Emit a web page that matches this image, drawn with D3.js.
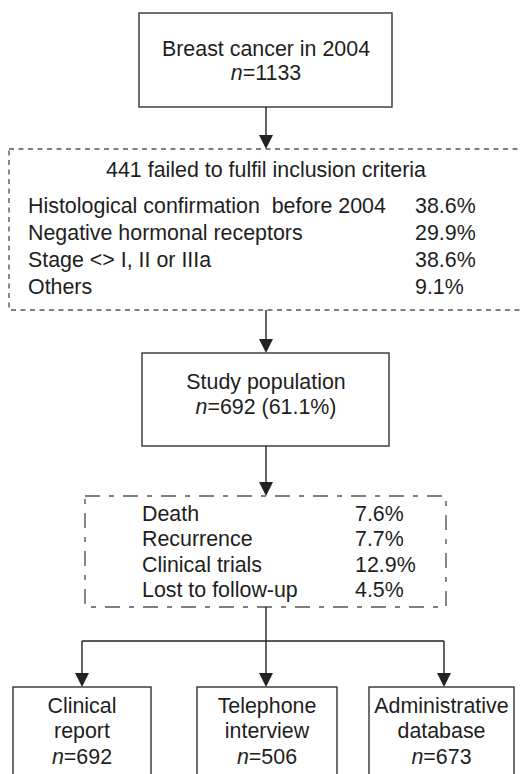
<!DOCTYPE html>
<html>
<head>
<meta charset="utf-8">
<script src="https://cdn.jsdelivr.net/npm/d3@7/dist/d3.min.js"></script>
<style>
  html, body { margin: 0; padding: 0; background: #fff; }
  svg { display: block; }
  text { font-family: "Liberation Sans", Arial, Helvetica, sans-serif; font-size: 21.4px; fill: #1e1e1e; white-space: pre; }
</style>
</head>
<body>
<script>
// ---- data ----
const totalLabel = "Breast cancer in 2004";
const totalN = 1133;
const failedCount = 441;
const failedTitle = "failed to fulfil inclusion criteria";
const exclusionReasons = ["Histological confirmation  before 2004", "Negative hormonal receptors", "Stage <> I, II or IIIa", "Others"];
const exclusionPct = ["38.6%", "29.9%", "38.6%", "9.1%"];
const studyLabel = "Study population";
const studyN = 692;
const studyPct = "61.1%";
const lossReasons = ["Death", "Recurrence", "Clinical trials", "Lost to follow-up"];
const lossPct = ["7.6%", "7.7%", "12.9%", "4.5%"];
const sourceLine1 = ["Clinical", "Telephone", "Administrative"];
const sourceLine2 = ["report", "interview", "database"];
const sourceN = [692, 506, 673];

// ---- layout ----
const W = 520, H = 774;
const svg = d3.select("body").append("svg").attr("width", W).attr("height", H);
const ink = "#222", solid = "#333", dashCol = "#555";
const cx = 266;

function box(x0, y0, x1, y1, dash) {
  svg.append("rect").attr("x", x0).attr("y", y0).attr("width", x1 - x0).attr("height", y1 - y0)
    .attr("fill", "none").attr("stroke", dash ? dashCol : solid).attr("stroke-width", 1.4)
    .attr("stroke-dasharray", dash || null);
}
function arrow(x, y0, y1) {
  svg.append("line").attr("x1", x).attr("x2", x).attr("y1", y0).attr("y2", y1 - 12)
    .attr("stroke", ink).attr("stroke-width", 1.4);
  svg.append("path").attr("d", d3.line()([[x - 7, y1 - 14], [x + 7, y1 - 14], [x, y1]]) + "Z").attr("fill", ink);
}
function nText(g, x, y, rest) {
  const t = g.append("text").attr("x", x).attr("y", y).attr("text-anchor", "middle");
  t.append("tspan").attr("font-style", "italic").text("n");
  t.append("tspan").text("=" + rest);
  return t;
}

// Box 1
box(139, 13, 392, 107);
svg.append("text").attr("x", cx).attr("y", 56).attr("text-anchor", "middle").text(totalLabel);
nText(svg, cx, 80, totalN);
arrow(cx, 107, 149);

// Dashed box 2
box(9, 149, 540, 310, "5,4.5");
svg.append("text").attr("x", cx).attr("y", 177).attr("text-anchor", "middle").text(failedCount + " " + failedTitle);
const row2 = d3.scalePoint().domain(d3.range(exclusionReasons.length)).range([213, 294]);
exclusionReasons.forEach((r, i) => {
  svg.append("text").attr("x", 28).attr("y", row2(i)).text(r);
  svg.append("text").attr("x", 415).attr("y", row2(i)).text(exclusionPct[i]);
});
arrow(cx, 310, 353);

// Box 3
box(142, 353, 389, 446);
svg.append("text").attr("x", cx).attr("y", 389).attr("text-anchor", "middle").text(studyLabel);
nText(svg, cx, 414, studyN + " (" + studyPct + ")");
arrow(cx, 446, 496);

// Dashed box 4
box(85, 496, 446, 607, "15,9,5,9");
const row4 = d3.scalePoint().domain(d3.range(lossReasons.length)).range([521, 597]);
lossReasons.forEach((r, i) => {
  svg.append("text").attr("x", 142).attr("y", row4(i)).text(r);
  svg.append("text").attr("x", 355).attr("y", row4(i)).text(lossPct[i]);
});

// Branches
const bx0 = [13, 197, 369], bx1 = [151, 337, 514];
const ax = [82, 266, 444];
svg.append("line").attr("x1", ax[0]).attr("x2", ax[2]).attr("y1", 641).attr("y2", 641)
  .attr("stroke", ink).attr("stroke-width", 1.4);
svg.append("line").attr("x1", cx).attr("x2", cx).attr("y1", 607).attr("y2", 641)
  .attr("stroke", ink).attr("stroke-width", 1.4);
sourceN.forEach((n, i) => {
  arrow(ax[i], 641, 687);
  box(bx0[i], 687, bx1[i], 800);
  const mx = (bx0[i] + bx1[i]) / 2;
  svg.append("text").attr("x", mx).attr("y", 713).attr("text-anchor", "middle").text(sourceLine1[i]);
  svg.append("text").attr("x", mx).attr("y", 738).attr("text-anchor", "middle").text(sourceLine2[i]);
  nText(svg, mx, 764, n);
});
</script>
</body>
</html>
